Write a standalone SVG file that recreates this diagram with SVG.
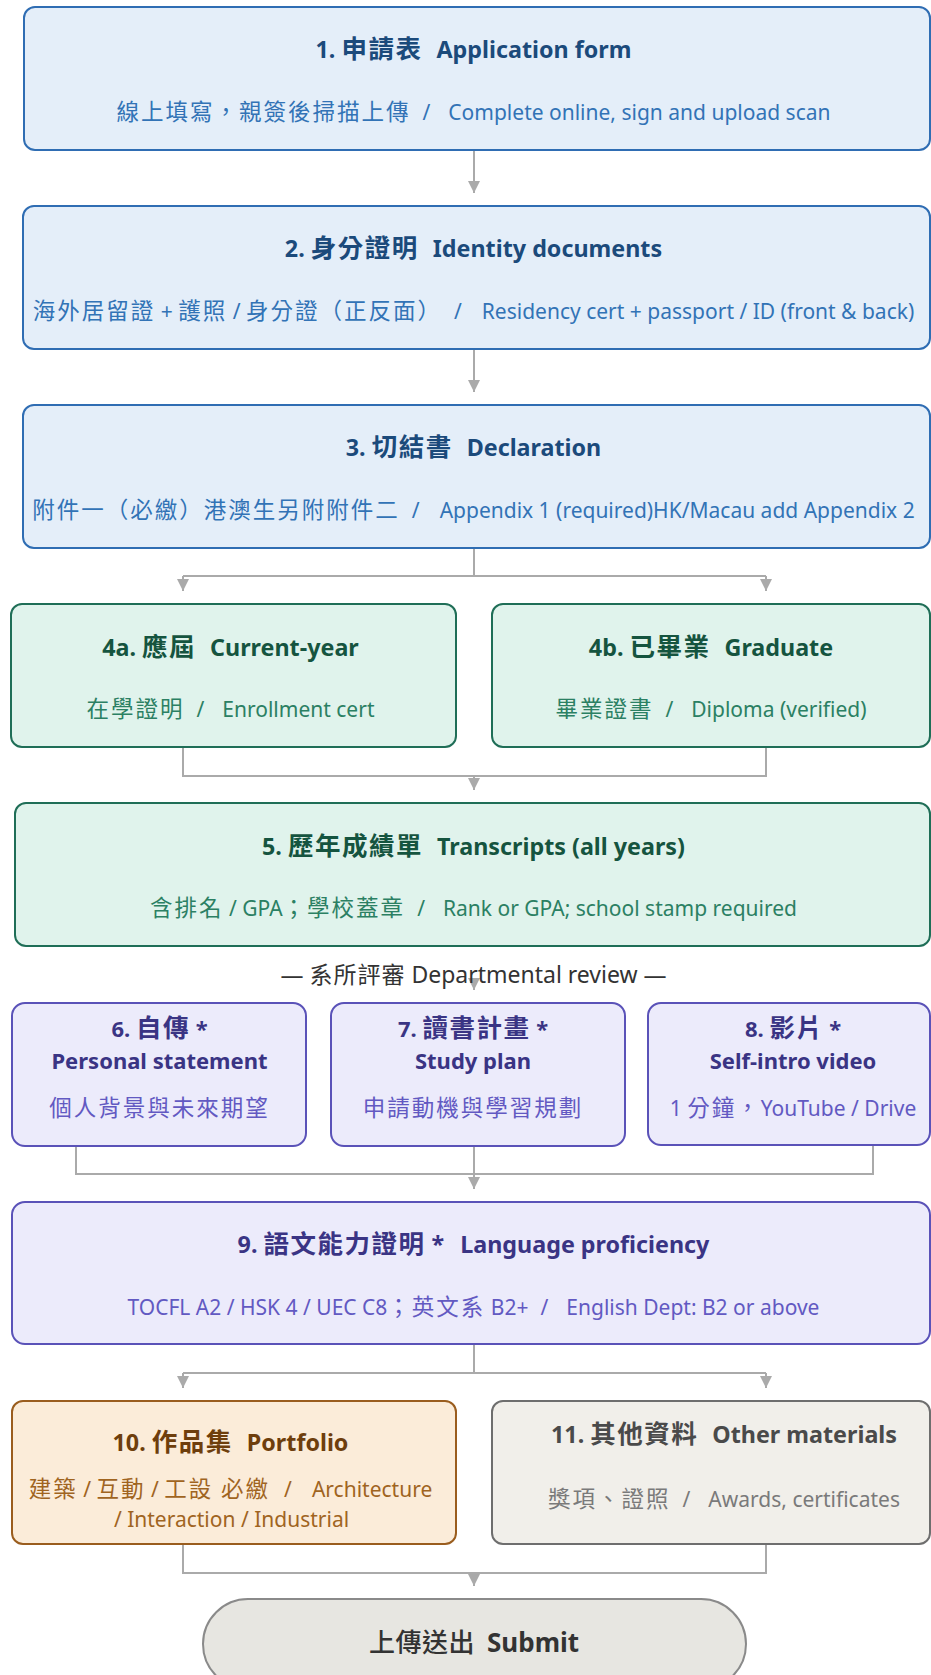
<svg xmlns="http://www.w3.org/2000/svg" width="931" height="1675" viewBox="0 0 931 1675">
<defs>
<style>
text{font-family:"Noto Sans","Noto Sans CJK TC",sans-serif;text-anchor:middle}
.t{font-size:23.3px;font-weight:bold}
.t2{font-size:22px;font-weight:bold}
.s{font-size:21px}
.tc{font-size:25.5px;letter-spacing:1.5px}
.sc{font-size:22.5px;letter-spacing:2px}
.conn{fill:none;stroke:#aaaaaa;stroke-width:2}
.blue rect{fill:#e4eef9;stroke:#2f6db3;stroke-width:2}
.blue .t{fill:#1b4a7b}.blue .s{fill:#3273b6}
.green rect{fill:#e0f3ec;stroke:#1f6e57;stroke-width:2}
.green .t{fill:#15543f}.green .s{fill:#2b8063}
.purple rect{fill:#ecebfb;stroke:#5a52b8;stroke-width:2}
.purple .t,.purple .t2{fill:#3a3484}.purple .s{fill:#6259c2}
.orange rect{fill:#fbecd9;stroke:#9a5d1e;stroke-width:2}
.orange .t{fill:#6e3e0c}.orange .s{fill:#a0641f}
.gray rect{fill:#f1efea;stroke:#6e6e6e;stroke-width:2}
.gray .t{fill:#4a4a4a}.gray .s{fill:#7a7a7a}
</style>
<marker id="ah" markerUnits="userSpaceOnUse" markerWidth="12" markerHeight="12" refX="12" refY="6" orient="auto">
<path d="M0,0 L12,6 L0,12 z" fill="#aaaaaa"/>
</marker>
</defs>
<rect width="931" height="1675" fill="#ffffff"/>

<g id="connectors">
<path class="conn" d="M474,150 V193" marker-end="url(#ah)"/>
<path class="conn" d="M474,349 V392" marker-end="url(#ah)"/>
<path class="conn" d="M474,548 V576 M183,576 H766"/>
<path class="conn" d="M183,576 V591" marker-end="url(#ah)"/>
<path class="conn" d="M766,576 V591" marker-end="url(#ah)"/>
<path class="conn" d="M183,747 V776 H766 V747"/>
<path class="conn" d="M474,776 V790" marker-end="url(#ah)"/>
<path class="conn" d="M474,985 V990" marker-end="url(#ah)"/>
<path class="conn" d="M76,1146 V1174 H873 V1146"/>
<path class="conn" d="M474,1146 V1189" marker-end="url(#ah)"/>
<path class="conn" d="M474,1344 V1373 M183,1373 H766"/>
<path class="conn" d="M183,1373 V1388" marker-end="url(#ah)"/>
<path class="conn" d="M766,1373 V1388" marker-end="url(#ah)"/>
<path class="conn" d="M183,1544 V1573 H766 V1544"/>
<path class="conn" d="M474,1573 V1586" marker-end="url(#ah)"/>
</g>

<g id="n1" class="blue">
<rect x="24" y="7" width="906" height="143" rx="11"/>
<text class="t" x="473.5" y="58">1. <tspan class="tc">申請表</tspan><tspan dx="14">Application form</tspan></text>
<text class="s" x="473.5" y="120"><tspan class="sc">線上填寫，親簽後掃描上傳</tspan><tspan dx="12">/</tspan><tspan dx="18">Complete online, sign and upload scan</tspan></text>
</g>

<g id="n2" class="blue">
<rect x="23" y="206" width="907" height="143" rx="11"/>
<text class="t" x="473.5" y="257">2. <tspan class="tc">身分證明</tspan><tspan dx="14">Identity documents</tspan></text>
<text class="s" x="473.5" y="319"><tspan class="sc">海外居留證</tspan> + <tspan class="sc">護照</tspan> / <tspan class="sc">身分證（正反面）</tspan><tspan dx="12">/</tspan><tspan dx="20">Residency cert + passport / ID (front &amp; back)</tspan></text>
</g>

<g id="n3" class="blue">
<rect x="23" y="405" width="907" height="143" rx="11"/>
<text class="t" x="473.5" y="456">3. <tspan class="tc">切結書</tspan><tspan dx="14">Declaration</tspan></text>
<text class="s" x="473.5" y="518"><tspan class="sc">附件一（必繳）港澳生另附附件二</tspan><tspan dx="12">/</tspan><tspan dx="20">Appendix 1 (required)HK/Macau add Appendix 2</tspan></text>
</g>

<g id="n4a" class="green">
<rect x="11" y="604" width="445" height="143" rx="11"/>
<text class="t" x="230.5" y="656">4a. <tspan class="tc">應屆</tspan><tspan dx="14">Current-year</tspan></text>
<text class="s" x="230.5" y="717"><tspan class="sc">在學證明</tspan><tspan dx="12">/</tspan><tspan dx="18">Enrollment cert</tspan></text>
</g>

<g id="n4b" class="green">
<rect x="492" y="604" width="438" height="143" rx="11"/>
<text class="t" x="711" y="656">4b. <tspan class="tc">已畢業</tspan><tspan dx="14">Graduate</tspan></text>
<text class="s" x="711" y="717"><tspan class="sc">畢業證書</tspan><tspan dx="12">/</tspan><tspan dx="18">Diploma (verified)</tspan></text>
</g>

<g id="n5" class="green">
<rect x="15" y="803" width="915" height="143" rx="11"/>
<text class="t" x="473.5" y="855">5. <tspan class="tc">歷年成績單</tspan><tspan dx="14">Transcripts (all years)</tspan></text>
<text class="s" x="473.5" y="916"><tspan class="sc">含排名</tspan> / GPA<tspan class="sc">；學校蓋章</tspan><tspan dx="12">/</tspan><tspan dx="18">Rank or GPA; school stamp required</tspan></text>
</g>

<text id="review-label" x="473.5" y="983" style="font-size:23px;fill:#333333">— <tspan style="font-size:23px;letter-spacing:1px">系所評審</tspan> Departmental review —</text>

<g id="n6" class="purple">
<rect x="12" y="1003" width="294" height="143" rx="13"/>
<text class="t2" x="159.5" y="1037">6. <tspan class="tc">自傳</tspan> *</text>
<text class="t2" x="159.5" y="1069">Personal statement</text>
<text class="s" x="159.5" y="1116"><tspan class="sc">個人背景與未來期望</tspan></text>
</g>

<g id="n7" class="purple">
<rect x="331" y="1003" width="294" height="143" rx="13"/>
<text class="t2" x="473" y="1037">7. <tspan class="tc">讀書計畫</tspan> *</text>
<text class="t2" x="473" y="1069">Study plan</text>
<text class="s" x="473" y="1116"><tspan class="sc">申請動機與學習規劃</tspan></text>
</g>

<g id="n8" class="purple">
<rect x="648" y="1003" width="282" height="142" rx="13"/>
<text class="t2" x="793" y="1037">8. <tspan class="tc">影片</tspan> *</text>
<text class="t2" x="793" y="1069">Self-intro video</text>
<text class="s" x="793" y="1116">1 <tspan class="sc">分鐘，</tspan>YouTube / Drive</text>
</g>

<g id="n9" class="purple">
<rect x="12" y="1202" width="918" height="142" rx="13"/>
<text class="t" x="473.5" y="1253">9. <tspan class="tc">語文能力證明</tspan> *<tspan dx="16">Language proficiency</tspan></text>
<text class="s" x="473.5" y="1315">TOCFL A2 / HSK 4 / UEC C8<tspan class="sc">；英文系</tspan> B2+<tspan dx="12">/</tspan><tspan dx="18">English Dept: B2 or above</tspan></text>
</g>

<g id="n10" class="orange">
<rect x="12" y="1401" width="444" height="143" rx="11"/>
<text class="t" x="230.5" y="1451">10. <tspan class="tc">作品集</tspan><tspan dx="14">Portfolio</tspan></text>
<text class="s" x="230.5" y="1497"><tspan class="sc">建築</tspan> / <tspan class="sc">互動</tspan> / <tspan class="sc">工設 必繳</tspan><tspan dx="14">/</tspan><tspan dx="20">Architecture</tspan></text>
<text class="s" x="231.5" y="1527">/ Interaction / Industrial</text>
</g>

<g id="n11" class="gray">
<rect x="492" y="1401" width="438" height="143" rx="11"/>
<text class="t" x="724" y="1443">11. <tspan class="tc">其他資料</tspan><tspan dx="14">Other materials</tspan></text>
<text class="s" x="724" y="1507"><tspan class="sc">獎項、證照</tspan><tspan dx="12">/</tspan><tspan dx="18">Awards, certificates</tspan></text>
</g>

<g id="submit">
<rect x="203" y="1599" width="543" height="90" rx="45" fill="#e7e6e1" stroke="#8a8a8a" stroke-width="2"/>
<text x="474" y="1652" style="font-size:26px;font-weight:bold;fill:#333333"><tspan style="font-size:26px;font-weight:500;letter-spacing:0.5px">上傳送出</tspan><tspan dx="12">Submit</tspan></text>
</g>
</svg>
